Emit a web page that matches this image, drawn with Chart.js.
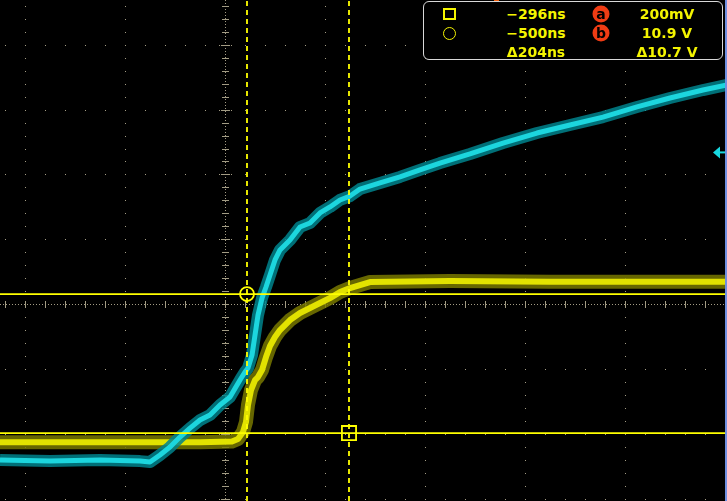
<!DOCTYPE html>
<html lang="en">
<head>
<meta charset="UTF-8">
<title>Scope capture</title>
<script src="https://cdn.jsdelivr.net/npm/chart.js"></script>
<style>
  html, body { margin: 0; padding: 0; background: #000; }
  #pantalla { position: relative; width: 727px; height: 501px; overflow: hidden; background: #000; }
  #pantalla canvas { display: block; }
  .caja { position: absolute; left: 423px; top: 1px; width: 300px; height: 59px; box-sizing: border-box;
          border: 1.5px solid #d8d8d8; border-radius: 6px; background: #000; }
  .txt { position: absolute; color: #f4f400; font: bold 14px "DejaVu Sans", sans-serif; line-height: 1;
         white-space: nowrap; transform: translate(-50%, -50%); }
  .cuadro { position: absolute; left: 443px; top: 8px; width: 13px; height: 12px; box-sizing: border-box; border: 2px solid #f4f400; }
  .circulo { position: absolute; left: 443px; top: 27px; width: 13px; height: 13px; box-sizing: border-box; border: 1.5px solid #f4f400; border-radius: 50%; }
  .badge { position: absolute; width: 17px; height: 17px; border-radius: 50%; background: #f03c14; color: #000;
           font: bold 14px "DejaVu Sans", sans-serif; line-height: 16px; text-align: center; transform: translate(-50%, -50%); }
  .trig { position: absolute; left: 494px; top: 0; width: 5px; height: 2px; background: #f06010; }
</style>
</head>
<body>
<div id="pantalla">
  <canvas id="osc" width="727" height="501"></canvas>
  <div class="trig"></div>
  <div class="caja"></div>
  <div class="cuadro"></div>
  <div class="circulo"></div>
  <div class="txt" style="left:536px; top:14px;">−296ns</div>
  <div class="txt" style="left:536px; top:33px;">−500ns</div>
  <div class="txt" style="left:536px; top:52px;">Δ204ns</div>
  <div class="badge" style="left:601px; top:14px;">a</div>
  <div class="badge" style="left:601px; top:33px;">b</div>
  <div class="txt" style="left:667px; top:14px;">200mV</div>
  <div class="txt" style="left:667px; top:33px;">10.9 V</div>
  <div class="txt" style="left:667px; top:52px;">Δ10.7 V</div>
</div>

<script>
  // screen window (ns, V)
  const xMin = -994, xMax = 460;
  const yMin = -5.03, yMax = 33.53;
  const timePerDiv = 200, voltsPerDiv = 5;
  const centreTime = -544, centreVolts = 10.1;

  // cursors: circle (b) and square (a)
  const cursorTimes = [-500, -296];
  const cursorVolts = [10.9, 0.2];
  const cyanMarkerVolts = 21.8;

  // yellow trace (ch1)
  const ch1Time  = [-994, -794, -594, -530, -518, -508, -502, -498, -492, -484, -478, -470, -462, -454, -444, -434,
                    -414, -394, -374, -354, -334, -314, -294, -274, -254, -94, 106, 306, 460];
  const ch1Volts = [-0.5, -0.5, -0.5, -0.45, -0.26, 0.28, 1.05, 2.36, 3.51, 4.28, 4.51, 5.05, 6.05, 6.90, 7.59, 8.13,
                    8.90, 9.44, 9.82, 10.21, 10.59, 11.05, 11.36, 11.59, 11.82, 11.90, 11.85, 11.85, 11.85];

  // cyan trace (ch2)
  const ch2Time  = [-994, -894, -794, -714, -694, -674, -654, -634, -614, -594, -574, -554, -534, -514, -504, -498,
                    -490, -484, -478, -470, -462, -454, -444, -434, -414, -394, -374, -354, -334, -314, -294, -274,
                    -234, -194, -154, -114, -54, 12, 80, 146, 212, 280, 346, 412, 460];
  const ch2Volts = [-1.88, -1.96, -1.88, -1.96, -2.03, -1.49, -0.88, -0.11, 0.58, 1.20, 1.59, 2.36, 2.97, 4.28, 4.90, 5.20,
                    6.20, 7.74, 9.28, 10.59, 11.44, 12.36, 13.52, 14.29, 15.06, 16.06, 16.37, 17.14, 17.60, 18.14, 18.44, 18.98,
                    19.45, 19.91, 20.45, 20.98, 21.68, 22.52, 23.29, 23.91, 24.52, 25.30, 25.99, 26.60, 26.99];

  const toPoints = (xs, ys) => xs.map((x, i) => ({ x: x, y: ys[i] }));

  const graticule = {
    id: 'graticule',
    beforeDatasetsDraw(chart) {
      const { ctx, scales: { x, y } } = chart;
      const minorT = timePerDiv / 5, minorV = voltsPerDiv / 5;
      const cx = Math.round(x.getPixelForValue(centreTime)), cy = Math.round(y.getPixelForValue(centreVolts));
      ctx.save();
      ctx.fillStyle = '#a39c84';
      const dot = (px, py) => ctx.fillRect(Math.round(px), Math.round(py), 1, 1);
      for (let k = -6; k <= 6; k++) {
        const px = x.getPixelForValue(centreTime + k * timePerDiv);
        if (k === 0 || px < 0 || px > 727) continue;
        for (let j = -30; j <= 30; j++) dot(px, y.getPixelForValue(centreVolts + j * minorV));
      }
      for (let k = -6; k <= 6; k++) {
        const py = y.getPixelForValue(centreVolts + k * voltsPerDiv);
        if (k === 0 || py < 0 || py > 501) continue;
        for (let j = -40; j <= 40; j++) dot(x.getPixelForValue(centreTime + j * minorT), py);
        for (let d = -6; d <= 6; d += 2) dot(cx + d, py);
      }
      // centre axes, dotted with ticks
      ctx.strokeStyle = '#a39c84';
      ctx.lineWidth = 1;
      ctx.setLineDash([1, 2]);
      ctx.beginPath();
      ctx.moveTo(cx + 0.5, 0); ctx.lineTo(cx + 0.5, 501);
      ctx.moveTo(0, cy + 0.5); ctx.lineTo(727, cy + 0.5);
      ctx.stroke();
      ctx.setLineDash([]);
      ctx.beginPath();
      for (let j = -30; j <= 30; j++) {
        const py = Math.round(y.getPixelForValue(centreVolts + j * minorV)) + 0.5;
        ctx.moveTo(cx - 3, py); ctx.lineTo(cx + 4, py);
      }
      for (let j = -40; j <= 40; j++) {
        const px = Math.round(x.getPixelForValue(centreTime + j * minorT)) + 0.5;
        ctx.moveTo(px, cy - 3); ctx.lineTo(px, cy + 4);
      }
      ctx.stroke();
      ctx.restore();
    },
    afterDatasetsDraw(chart) {
      const { ctx, scales: { y } } = chart;
      const my = y.getPixelForValue(cyanMarkerVolts);
      ctx.save();
      ctx.fillStyle = '#18d8e0';
      ctx.beginPath();
      ctx.moveTo(713, my); ctx.lineTo(720, my - 6); ctx.lineTo(720, my + 6); ctx.closePath();
      ctx.fill();
      ctx.fillRect(719, my - 1, 6, 2);
      ctx.fillStyle = '#6f8fe0';
      ctx.fillRect(725, 0, 2, 501);
      ctx.restore();
    }
  };

  const ctx = document.getElementById('osc').getContext('2d');
  const grafico = new Chart(ctx, {
    type: 'line',
    data: {
      datasets: [
        // cursors on top
        { data: [{ x: cursorTimes[0], y: yMin }, { x: cursorTimes[0], y: yMax }], borderColor: '#ffff00', borderWidth: 1.8, borderDash: [5, 4], pointRadius: 0, order: 1 },
        { data: [{ x: cursorTimes[1], y: yMin }, { x: cursorTimes[1], y: yMax }], borderColor: '#ffff00', borderWidth: 1.8, borderDash: [5, 4], pointRadius: 0, order: 1 },
        { data: [{ x: xMin, y: cursorVolts[0] }, { x: xMax, y: cursorVolts[0] }], borderColor: '#ffff00', borderWidth: 1.8, pointRadius: 0, order: 1 },
        { data: [{ x: xMin, y: cursorVolts[1] }, { x: xMax, y: cursorVolts[1] }], borderColor: '#ffff00', borderWidth: 1.8, pointRadius: 0, order: 1 },
        { data: [{ x: cursorTimes[0], y: cursorVolts[0] }], showLine: false, pointStyle: 'circle', pointRadius: 7,
          pointBorderColor: '#ffff00', pointBackgroundColor: 'rgba(0,0,0,0)', pointBorderWidth: 1.8, order: 0 },
        { data: [{ x: cursorTimes[1], y: cursorVolts[1] }], showLine: false, pointStyle: 'rect', pointRadius: 10,
          pointBorderColor: '#ffff00', pointBackgroundColor: 'rgba(0,0,0,0)', pointBorderWidth: 1.8, order: 0 },
        // cyan trace: core + noise band
        { data: toPoints(ch2Time, ch2Volts), borderColor: '#1cd6de', borderWidth: 5, pointRadius: 0, order: 2 },
        { data: toPoints(ch2Time, ch2Volts), borderColor: 'rgba(0,130,140,0.85)', borderWidth: 12, pointRadius: 0, order: 3 },
        // yellow trace: core + noise band
        { data: toPoints(ch1Time, ch1Volts), borderColor: '#e2e200', borderWidth: 6, pointRadius: 0, order: 4 },
        { data: toPoints(ch1Time, ch1Volts), borderColor: 'rgba(120,120,0,0.85)', borderWidth: 14, pointRadius: 0, order: 5 }
      ]
    },
    options: {
      responsive: false,
      animation: false,
      devicePixelRatio: 1,
      layout: { padding: 0, autoPadding: false },
      elements: { line: { borderJoinStyle: 'round', borderCapStyle: 'butt', tension: 0 } },
      plugins: { legend: { display: false }, tooltip: { enabled: false } },
      scales: {
        x: { type: 'linear', min: xMin, max: xMax, display: false },
        y: { type: 'linear', min: yMin, max: yMax, display: false }
      }
    },
    plugins: [graticule]
  });
</script>
</body>
</html>
